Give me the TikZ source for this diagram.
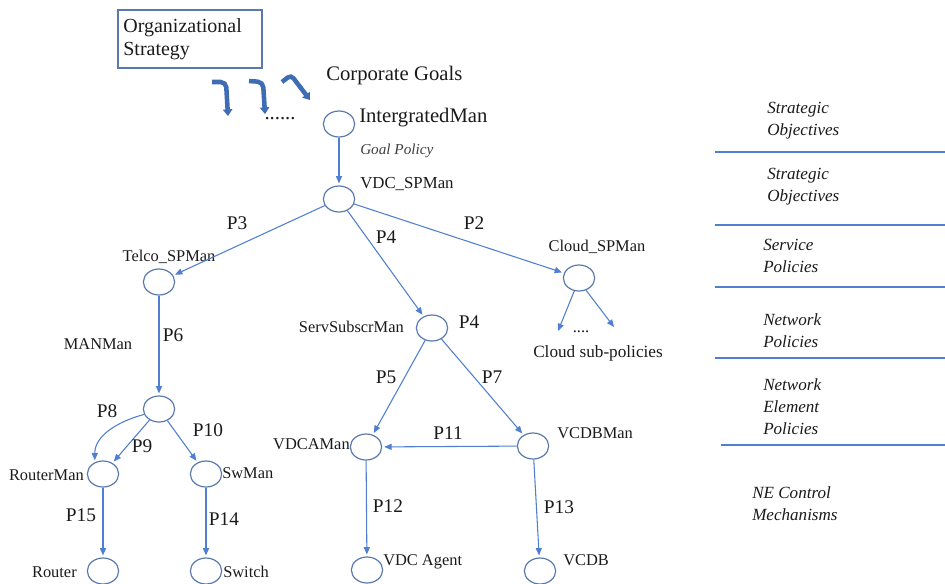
\documentclass[tikz,border=0pt]{standalone}
\usepackage{fontspec}
\setmainfont{Liberation Serif}
\usetikzlibrary{arrows.meta,shapes.geometric}
\definecolor{linkblue}{HTML}{4F7FD0}
\definecolor{ringblue}{HTML}{5A7AAE}
\definecolor{thickblue}{HTML}{3E6DB5}
\definecolor{txt}{HTML}{1A1A1A}
\definecolor{softgray}{HTML}{404040}
\newcommand\fbig{\fontsize{15.5}{18}\selectfont}
\newcommand\fmid{\fontsize{14.5}{17}\selectfont}
\newcommand\fsmall{\fontsize{12.3}{14}\selectfont}
\newcommand\fside{\fontsize{12.8}{16.5}\selectfont\itshape}
\begin{document}
\begin{tikzpicture}[x=0.75pt,y=-0.75pt,
  mgr/.style={ellipse,draw=ringblue,line width=0.9pt,minimum width=23.5pt,minimum height=19.5pt,inner sep=0pt},
  link/.style={draw=linkblue,line width=0.8pt,-{Triangle[length=5.5pt,width=4.6pt]},shorten >=1.5pt},
  bigarrow/.style={draw=thickblue,line width=3.4pt,rounded corners=4pt,-{Triangle[length=5pt,width=7pt]}},
  lbl/.style={text=txt,font=\fsmall,inner sep=0pt},
  plabel/.style={text=txt,font=\fmid,inner sep=0pt},
  sidetxt/.style={text=txt,font=\fside,align=left,anchor=west,inner sep=0pt},
  layer/.style={draw=linkblue,line width=1pt},
  orgbox/.style={draw=ringblue,line width=1pt,minimum width=108pt,minimum height=43.5pt,text width=100pt,align=left,inner sep=3.75pt,text=txt,font=\fontsize{15}{17.25}\selectfont}]
\useasboundingbox (0,0) rectangle (945,583);

% strategy box and corporate goals
\node[orgbox] (org) at (190,39) {Organizational\\Strategy};
\coordinate (a1s) at (212,82); \coordinate (a1m) at (226,82); \coordinate (a1e) at (228,116);
\coordinate (a2s) at (249,81); \coordinate (a2m) at (263,82); \coordinate (a2e) at (265,114);
\coordinate (a3s) at (282,82); \coordinate (a3m) at (291,75); \coordinate (a3e) at (310,100);
\draw[bigarrow] (a1s) -- (a1m) -- (a1e);
\draw[bigarrow] (a2s) -- (a2m) -- (a2e);
\draw[bigarrow,rounded corners=3pt] (a3s) -- (a3m) -- (a3e);
\node[text=txt,font=\fbig,inner sep=0pt] (dots) at (280,119) {......};
\node[text=txt,font=\fbig,anchor=west,inner sep=0pt] (goals) at (326,76) {Corporate Goals};

% manager nodes
\node[mgr] (im) at (339,124) {};
\node[mgr] (vdc) at (339,199) {};
\node[mgr] (telco) at (159,282) {};
\node[mgr] (ss) at (432,328) {};
\node[mgr] (cloud) at (579,278) {};
\node[mgr] (man) at (159,409) {};
\node[mgr] (router) at (103,474) {};
\node[mgr] (sw) at (206,474) {};
\node[mgr] (vdca) at (366,447) {};
\node[mgr] (vcdbm) at (533,446) {};
\node[mgr] (rt) at (103,571) {};
\node[mgr] (swi) at (206,571) {};
\node[mgr] (agent) at (367,570) {};
\node[mgr] (vcdb) at (540,571) {};

% node names
\node[text=txt,font=\fbig,anchor=west,inner sep=0pt] at (359,118) {IntergratedMan};
\node[text=softgray,font=\fontsize{11.4}{13}\selectfont\itshape,anchor=west,inner sep=0pt] at (360,151) {Goal Policy};
\node[lbl,font=\fontsize{12.6}{14}\selectfont,anchor=west] at (360,184) {VDC\_SPMan};
\node[lbl] at (169,257) {Telco\_SPMan};
\node[lbl,anchor=east] at (404,327) {ServSubscrMan};
\node[lbl] at (597,247) {Cloud\_SPMan};
\node[lbl] at (581,332) {....};
\node[lbl,font=\fontsize{12.9}{14}\selectfont] at (598,353) {Cloud sub-policies};
\node[lbl] at (98,344) {MANMan};
\node[lbl,anchor=east] at (84,475) {RouterMan};
\node[lbl,anchor=west] at (222,473) {SwMan};
\node[lbl,anchor=east] at (77,572) {Router};
\node[lbl,anchor=west] at (223,572) {Switch};
\node[lbl,anchor=east] at (350,444) {VDCAMan};
\node[lbl,anchor=west] at (557,433) {VCDBMan};
\node[lbl,anchor=west] at (383,562) {VDC Agent};
\node[lbl,anchor=west] at (563,560) {VCDB};

% policy links
\draw[link] (im) -- (vdc);
\draw[link] (vdc) -- (telco);
\draw[link] (vdc) -- (ss);
\draw[link] (vdc) -- (cloud);
\coordinate (c1) at (558,331);
\coordinate (c2) at (614,327);
\draw[link,shorten >=0pt] (cloud.250) -- (c1);
\draw[link,shorten >=0pt] (cloud.-60) -- (c2);
\draw[link] (telco) -- (man);
\draw[link] (man.200) to[out=195,in=90] (router.125);
\draw[link] (man) -- (router);
\draw[link] (man) -- (sw);
\draw[link] (router) -- (rt);
\draw[link] (sw) -- (swi);
\draw[link] (ss) -- (vdca);
\draw[link] (ss) -- (vcdbm);
\draw[link] (vcdbm) -- (vdca);
\draw[link] (vdca) -- (agent);
\draw[link] (vcdbm) -- (vcdb);

% policy labels
\node[plabel] at (237,223) {P3};
\node[plabel] at (386,237) {P4};
\node[plabel] at (474,223) {P2};
\node[plabel] at (469,322) {P4};
\node[plabel] at (173,335) {P6};
\node[plabel] at (386,377) {P5};
\node[plabel] at (492,377) {P7};
\node[plabel] at (107,411) {P8};
\node[plabel] at (142,446) {P9};
\node[plabel] at (208,430) {P10};
\node[plabel] at (448,433) {P11};
\node[plabel] at (81,515) {P15};
\node[plabel] at (224,519) {P14};
\node[plabel] at (388,506) {P12};
\node[plabel] at (559,507) {P13};

% layer column
\coordinate (l1a) at (715,152); \coordinate (l1b) at (945,152);
\coordinate (l2a) at (715,225); \coordinate (l2b) at (945,225);
\coordinate (l3a) at (715,287); \coordinate (l3b) at (945,287);
\coordinate (l4a) at (715,358); \coordinate (l4b) at (945,358);
\coordinate (l5a) at (721,445); \coordinate (l5b) at (945,445);
\draw[layer] (l1a) -- (l1b);
\draw[layer] (l2a) -- (l2b);
\draw[layer] (l3a) -- (l3b);
\draw[layer] (l4a) -- (l4b);
\draw[layer] (l5a) -- (l5b);
\node[sidetxt] at (767,121) {Strategic\\Objectives};
\node[sidetxt] at (767,187) {Strategic\\Objectives};
\node[sidetxt] at (763,256) {Service\\Policies};
\node[sidetxt] at (763,331) {Network\\Policies};
\node[sidetxt] at (763,407) {Network\\Element\\Policies};
\node[sidetxt] at (752,504) {NE Control\\Mechanisms};
\end{tikzpicture}
\end{document}
